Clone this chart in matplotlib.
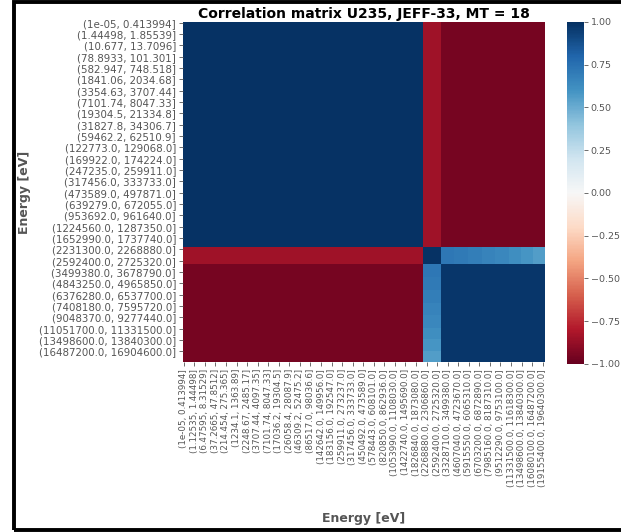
import numpy as np
import pandas as pd
import matplotlib.pyplot as plt
import seaborn as sns
from matplotlib.patches import Rectangle

# energy grid: 240 groups, only every 7th (x) / 8th (y) group is labelled
n_groups = 240
x_step = 7
y_step = 8

x_labels = [
    "(1e-05, 0.413994]", "(1.12535, 1.44498]", "(6.47595, 8.31529]",
    "(37.2665, 47.8512]", "(214.454, 275.365]", "(1234.1, 1363.89]",
    "(2248.67, 2485.17]", "(3707.44, 4097.35]", "(7101.74, 8047.33]",
    "(17036.2, 19304.5]", "(26058.4, 28087.9]", "(46309.2, 52475.2]",
    "(86517.0, 98036.6]", "(142642.0, 149956.0]", "(183156.0, 192547.0]",
    "(259911.0, 273237.0]", "(317456.0, 333733.0]", "(450492.0, 473589.0]",
    "(578443.0, 608101.0]", "(820850.0, 862936.0]", "(1053990.0, 1108030.0]",
    "(1422740.0, 1495690.0]", "(1826840.0, 1873080.0]", "(2268880.0, 2306860.0]",
    "(2592400.0, 2725320.0]", "(3328710.0, 3499380.0]", "(4607040.0, 4723670.0]",
    "(5915550.0, 6065310.0]", "(6703200.0, 6872890.0]", "(7985160.0, 8187310.0]",
    "(9512290.0, 9753100.0]", "(11331500.0, 11618300.0]", "(13498600.0, 13840300.0]",
    "(16080100.0, 16487200.0]", "(19155400.0, 19640300.0]",
]

y_labels = [
    "(1e-05, 0.413994]", "(1.44498, 1.85539]", "(10.677, 13.7096]",
    "(78.8933, 101.301]", "(582.947, 748.518]", "(1841.06, 2034.68]",
    "(3354.63, 3707.44]", "(7101.74, 8047.33]", "(19304.5, 21334.8]",
    "(31827.8, 34306.7]", "(59462.2, 62510.9]", "(122773.0, 129068.0]",
    "(169922.0, 174224.0]", "(247235.0, 259911.0]", "(317456.0, 333733.0]",
    "(473589.0, 497871.0]", "(639279.0, 672055.0]", "(953692.0, 961640.0]",
    "(1224560.0, 1287350.0]", "(1652990.0, 1737740.0]", "(2231300.0, 2268880.0]",
    "(2592400.0, 2725320.0]", "(3499380.0, 3678790.0]", "(4843250.0, 4965850.0]",
    "(6376280.0, 6537700.0]", "(7408180.0, 7595720.0]", "(9048370.0, 9277440.0]",
    "(11051700.0, 11331500.0]", "(13498600.0, 13840300.0]", "(16487200.0, 16904600.0]",
]

# correlation blocks: low energy / transition band / high energy
block_edges = [0, 159, 171, 240]
low_low = 0.99
low_band = -0.85
low_high = -0.96
band_band = 0.99
band_high = [0.72, 0.71, 0.69, 0.67, 0.65, 0.62, 0.59, 0.56]
high_high = 0.97

lo = slice(block_edges[0], block_edges[1])
bd = slice(block_edges[1], block_edges[2])
hi = slice(block_edges[2], block_edges[3])

corr = np.zeros((n_groups, n_groups))
corr[lo, lo] = low_low
corr[lo, bd] = low_band
corr[bd, lo] = low_band
corr[lo, hi] = low_high
corr[hi, lo] = low_high
corr[bd, bd] = band_band
corr[hi, hi] = high_high
hi_idx = np.arange(block_edges[2], block_edges[3])
for chunk, v in zip(np.array_split(hi_idx, len(band_high)), band_high):
    corr[bd, chunk] = v
    corr[chunk, bd] = v

df = pd.DataFrame(corr)

grey = "#555555"
fig = plt.figure(figsize=(6.21, 5.32), dpi=100)
ax = fig.add_axes([0.2947, 0.3195, 0.5829, 0.6391])
cax = fig.add_axes([0.913, 0.316, 0.027, 0.643])

sns.heatmap(df, ax=ax, cbar_ax=cax, cmap="RdBu", vmin=-1, vmax=1,
            xticklabels=False, yticklabels=False)

ax.set_xticks(np.arange(0, n_groups, x_step)[:len(x_labels)] + 0.5)
ax.set_xticklabels(x_labels, rotation=90, fontsize=6.3, color=grey)
ax.set_yticks(np.arange(0, n_groups, y_step)[:len(y_labels)] + 0.5)
ax.set_yticklabels(y_labels, rotation=0, fontsize=7.4, color=grey)
ax.tick_params(axis="both", length=3, width=0.6, color=grey, pad=2)

ax.set_title("Correlation matrix U235, JEFF-33, MT = 18",
             fontsize=10, fontweight="bold", pad=3)
ax.set_xlabel("Energy [eV]", fontsize=9, fontweight="bold", color=grey)
ax.set_ylabel("Energy [eV]", fontsize=9, fontweight="bold", color=grey)
ax.xaxis.set_label_coords(0.5, -0.442)
ax.yaxis.set_label_coords(-0.42, 0.5)

cax.tick_params(labelsize=6.8, colors=grey, length=3, width=0.6, pad=2)
for lab in cax.get_yticklabels():
    lab.set_color(grey)

# black frame around the figure
fig.patches.append(Rectangle((14 / 621, 2.5 / 532), 1.2, 1 - 4.5 / 532,
                             transform=fig.transFigure, fill=False,
                             edgecolor="black", linewidth=2.8, clip_on=False))

fig.savefig("out.png", dpi=100)
